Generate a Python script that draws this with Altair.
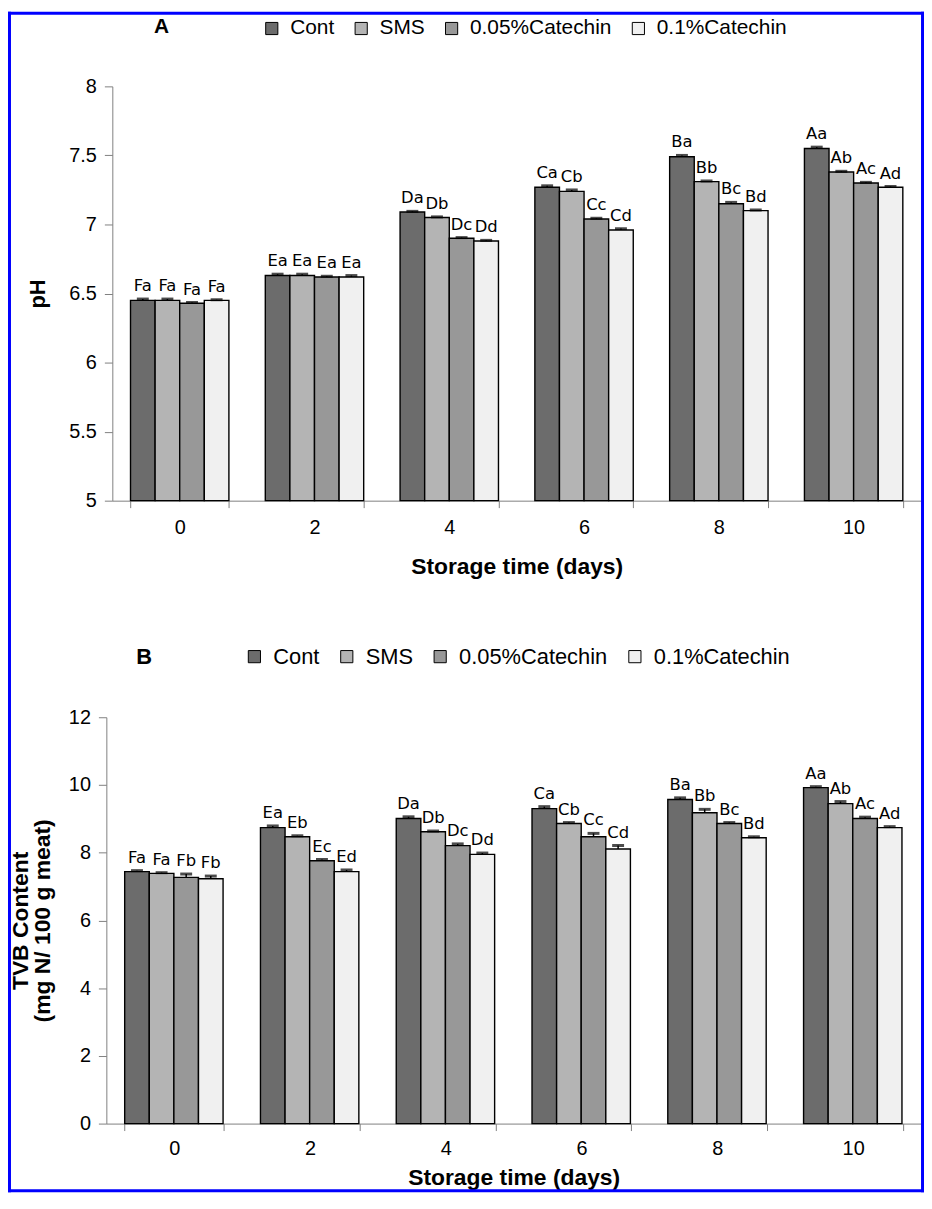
import altair as alt
import pandas as pd

# ---------------- data ----------------
days = ["0", "2", "4", "6", "8", "10"]
treatments = ["Cont", "SMS", "0.05%Catechin", "0.1%Catechin"]
fills = ["#6c6c6c", "#b4b4b4", "#989898", "#f0f0f0"]

# Panel A: pH
ph_cont = [6.45, 6.63, 7.09, 7.27, 7.49, 7.55]
ph_sms = [6.45, 6.63, 7.05, 7.24, 7.31, 7.38]
ph_c005 = [6.43, 6.62, 6.90, 7.04, 7.15, 7.30]
ph_c01 = [6.45, 6.62, 6.88, 6.96, 7.10, 7.27]
ph_err_cont = [0.01, 0.01, 0.005, 0.01, 0.01, 0.01]
ph_err_sms = [0.01, 0.01, 0.005, 0.01, 0.005, 0.005]
ph_err_c005 = [0.005, 0.005, 0.005, 0.005, 0.01, 0.005]
ph_err_c01 = [0.005, 0.01, 0.005, 0.01, 0.005, 0.005]
ph_let_cont = ["Fa", "Ea", "Da", "Ca", "Ba", "Aa"]
ph_let_sms = ["Fa", "Ea", "Db", "Cb", "Bb", "Ab"]
ph_let_c005 = ["Fa", "Ea", "Dc", "Cc", "Bc", "Ac"]
ph_let_c01 = ["Fa", "Ea", "Dd", "Cd", "Bd", "Ad"]

# Panel B: TVB content
tvb_cont = [7.44, 8.74, 9.01, 9.30, 9.57, 9.92]
tvb_sms = [7.39, 8.47, 8.62, 8.86, 9.18, 9.45]
tvb_c005 = [7.27, 7.76, 8.21, 8.47, 8.86, 9.01]
tvb_c01 = [7.23, 7.44, 7.95, 8.11, 8.44, 8.74]
tvb_err_cont = [0.03, 0.05, 0.05, 0.06, 0.05, 0.03]
tvb_err_sms = [0.02, 0.03, 0.02, 0.03, 0.10, 0.06]
tvb_err_c005 = [0.10, 0.04, 0.05, 0.10, 0.03, 0.04]
tvb_err_c01 = [0.08, 0.05, 0.04, 0.10, 0.03, 0.03]
tvb_let_cont = ["Fa", "Ea", "Da", "Ca", "Ba", "Aa"]
tvb_let_sms = ["Fa", "Eb", "Db", "Cb", "Bb", "Ab"]
tvb_let_c005 = ["Fb", "Ec", "Dc", "Cc", "Bc", "Ac"]
tvb_let_c01 = ["Fb", "Ed", "Dd", "Cd", "Bd", "Ad"]

ph_ticks = [5, 5.5, 6, 6.5, 7, 7.5, 8]
tvb_ticks = [0, 2, 4, 6, 8, 10, 12]


def make_df(values, errs, letters):
    rows = []
    for t, vals, es, ls in zip(treatments, values, errs, letters):
        for d, v, e, l in zip(days, vals, es, ls):
            rows.append({"day": d, "treatment": t, "value": v,
                         "top": round(v + e, 4), "letter": l})
    return pd.DataFrame(rows)


df_ph = make_df([ph_cont, ph_sms, ph_c005, ph_c01],
                [ph_err_cont, ph_err_sms, ph_err_c005, ph_err_c01],
                [ph_let_cont, ph_let_sms, ph_let_c005, ph_let_c01])
df_tvb = make_df([tvb_cont, tvb_sms, tvb_c005, tvb_c01],
                 [tvb_err_cont, tvb_err_sms, tvb_err_c005, tvb_err_c01],
                 [tvb_let_cont, tvb_let_sms, tvb_let_c005, tvb_let_c01])

FONT = "Liberation Sans"
BLUE = "#0000ff"
one = pd.DataFrame({"k": [0]})


def frame_rect(x1, x2, y1, y2):
    # blue page frame (decoration), drawn as a filled strip with no stroke
    return alt.Chart(one).mark_rect(color=BLUE, strokeWidth=0).encode(
        x=alt.value(x1), x2=alt.value(x2), y=alt.value(y1), y2=alt.value(y2))


def panel(df, dom, yvals, yfmt, ytitle, title_size, title_x, width, height,
          xrange, yoffset, legend_x, legend_y, legend_size, letter, letter_x,
          letter_y, letter_size, lab_pad, title_pad, frame):
    xscale = alt.Scale(paddingInner=0.27, paddingOuter=0.135)
    if xrange is not None:
        xscale = alt.Scale(paddingInner=0.27, paddingOuter=0.135,
                           range=xrange)
    xenc = alt.X("day:N", sort=days, scale=xscale,
                 axis=alt.Axis(title="Storage time (days)", labelAngle=0,
                               tickBand="extent", tickSize=7,
                               labelPadding=lab_pad, titlePadding=title_pad))
    xo = alt.XOffset("treatment:N", sort=treatments,
                     scale=alt.Scale(paddingInner=0, paddingOuter=0))

    def yenc(field):
        return alt.Y(field + ":Q",
                     scale=alt.Scale(domain=dom, nice=False, zero=False),
                     axis=alt.Axis(title=ytitle, values=yvals, format=yfmt,
                                   tickSize=8, labelPadding=8, offset=yoffset,
                                   titleX=title_x, titleY=height / 2,
                                   titleAngle=270, titleAlign="center",
                                   titleBaseline="middle",
                                   titleFontSize=title_size,
                                   titleLineHeight=22))

    base = alt.Chart(df)
    bars = base.mark_bar(stroke="black", strokeWidth=1.4).encode(
        x=xenc, xOffset=xo, y=yenc("value"), y2=alt.datum(dom[0]),
        fill=alt.Fill("treatment:N", sort=treatments,
                      scale=alt.Scale(domain=treatments, range=fills),
                      legend=alt.Legend(orient="none", legendX=legend_x,
                                        legendY=legend_y,
                                        direction="horizontal", title=None,
                                        symbolType="square", symbolSize=150,
                                        symbolStrokeColor="black",
                                        symbolStrokeWidth=1,
                                        labelFont=FONT,
                                        labelFontSize=legend_size,
                                        labelColor="black",
                                        columnPadding=16, labelOffset=8)))
    err = base.mark_rule(color="black", strokeWidth=1.5).encode(
        x=xenc, xOffset=xo, y=yenc("value"), y2="top:Q")
    cap = base.mark_tick(color="black", thickness=3, size=12).encode(
        x=xenc, xOffset=xo, y=yenc("top"))
    labels = base.mark_text(font="DejaVu Sans", fontSize=16.5,
                            baseline="alphabetic", dy=-8).encode(
        x=xenc, xOffset=xo, y=yenc("top"), text="letter:N")
    tag = alt.Chart(pd.DataFrame({"t": [letter]})).mark_text(
        font=FONT, fontSize=letter_size, fontWeight="bold",
        baseline="middle", align="left").encode(
        text="t:N", x=alt.value(letter_x), y=alt.value(letter_y))
    layers = [bars, err, cap, labels, tag] + frame
    return alt.layer(*layers).properties(width=width, height=height)


# both plot areas start at page x 107; panel A's axis sits 6 px further in.
W = 820
A_H = 417   # page y 83..500
B_H = 409   # page y 718..1127

frameA = [
    frame_rect(-99, -96, -75, 538),
    frame_rect(-99, 823, -75, -72),
    frame_rect(820, 823, -75, 538),
]
panelA = panel(df_ph, [5, 8], ph_ticks, "~g", "pH", 22, -75, W, A_H,
               [6, 820], -6, 156, -69, 21, "A", 48, -60, 21, 10, 18, frameA)

frameB = [
    frame_rect(-99, -96, -97, 478),
    frame_rect(820, 823, -97, 478),
    frame_rect(-99, 823, 475, 478),
]
panelB = panel(df_tvb, [0, 12], tvb_ticks, "d",
               ["TVB Content", "(mg N/ 100 g meat)"], 23, -86, W, B_H, None,
               0, 138, -72, 22, "B", 30, -61, 22, 8, 8, frameB)

chart = alt.vconcat(panelA, panelB, spacing=0).resolve_scale(
    fill="independent", x="independent", y="independent"
).resolve_legend(fill="independent").properties(
    padding={"left": 0, "top": 0, "right": 0, "bottom": 0}
).configure_view(strokeOpacity=0).configure_axis(
    grid=False, labelFont=FONT, labelFontSize=20, labelColor="black",
    titleFont=FONT, titleFontSize=23, titleFontWeight="bold",
    titleColor="black", domainColor="#808080", tickColor="#808080")

chart.save("out.html", embed_options={"renderer": "svg", "actions": False})
